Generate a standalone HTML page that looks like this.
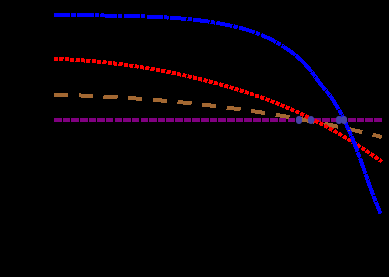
<!DOCTYPE html>
<html><head><meta charset="utf-8"><style>
html,body{margin:0;padding:0;background:#000;}
svg{display:block}
</style></head><body>
<svg shape-rendering="crispEdges" width="389" height="277" viewBox="0 0 389 277">
<rect width="389" height="277" fill="#000"/>
<path d="M54,120 L381.5,120" stroke="#800080" stroke-width="4.0" fill="none" stroke-dasharray="7.55 1.1"/>
<path d="M54.0,94.65 L56.0,94.70 L58.0,94.75 L60.0,94.81 L62.0,94.87 L64.0,94.92 L66.0,94.99 L68.0,95.05 L70.0,95.11 L72.0,95.18 L74.0,95.25 L76.0,95.32 L78.0,95.40 L80.0,95.47 L82.0,95.55 L84.0,95.63 L86.0,95.71 L88.0,95.80 L90.0,95.88 L92.0,95.97 L94.0,96.07 L96.0,96.16 L98.0,96.25 L100.0,96.35 L102.0,96.45 L104.0,96.55 L106.0,96.66 L108.0,96.77 L110.0,96.87 L112.0,96.99 L114.0,97.10 L116.0,97.22 L118.0,97.33 L120.0,97.45 L122.0,97.58 L124.0,97.70 L126.0,97.83 L128.0,97.96 L130.0,98.09 L132.0,98.23 L134.0,98.36 L136.0,98.50 L138.0,98.65 L140.0,98.79 L142.0,98.94 L144.0,99.09 L146.0,99.24 L148.0,99.39 L150.0,99.55 L152.0,99.71 L154.0,99.87 L156.0,100.03 L158.0,100.20 L160.0,100.37 L162.0,100.54 L164.0,100.72 L166.0,100.89 L168.0,101.07 L170.0,101.25 L172.0,101.44 L174.0,101.63 L176.0,101.82 L178.0,102.01 L180.0,102.20 L182.0,102.40 L184.0,102.60 L186.0,102.80 L188.0,103.01 L190.0,103.22 L192.0,103.43 L194.0,103.64 L196.0,103.86 L198.0,104.08 L200.0,104.30 L202.0,104.52 L204.0,104.75 L206.0,104.98 L208.0,105.21 L210.0,105.45 L212.0,105.68 L214.0,105.93 L216.0,106.17 L218.0,106.42 L220.0,106.67 L222.0,106.92 L224.0,107.17 L226.0,107.43 L228.0,107.69 L230.0,107.95 L232.0,108.22 L234.0,108.49 L236.0,108.76 L238.0,109.04 L240.0,109.31 L242.0,109.60 L244.0,109.88 L246.0,110.17 L248.0,110.46 L250.0,110.75 L252.0,111.04 L254.0,111.34 L256.0,111.64 L258.0,111.95 L260.0,112.26 L262.0,112.57 L264.0,112.88 L266.0,113.20 L268.0,113.52 L270.0,113.84 L272.0,114.17 L274.0,114.49 L276.0,114.83 L278.0,115.16 L280.0,115.50 L282.0,115.84 L284.0,116.19 L286.0,116.53 L288.0,116.88 L290.0,117.24 L292.0,117.59 L294.0,117.95 L296.0,118.32 L298.0,118.68 L300.0,119.05 L302.0,119.43 L304.0,119.80 L306.0,120.18 L308.0,120.57 L310.0,120.95 L312.0,121.34 L314.0,121.73 L316.0,122.13 L318.0,122.53 L320.0,122.93 L322.0,123.34 L324.0,123.74 L326.0,124.16 L328.0,124.57 L330.0,124.99 L332.0,125.41 L334.0,125.84 L336.0,126.27 L338.0,126.70 L340.0,127.14 L342.0,127.58 L344.0,128.02 L346.0,128.46 L348.0,128.91 L350.0,129.37 L352.0,129.82 L354.0,130.28 L356.0,130.75 L358.0,131.21 L360.0,131.68 L362.0,132.16 L364.0,132.63 L366.0,133.12 L368.0,133.60 L370.0,134.09 L372.0,134.58 L374.0,135.07 L376.0,135.57 L378.0,136.07 L380.0,136.58 L381.7,137.01" stroke="#a36832" stroke-width="4.0" fill="none" stroke-dasharray="14.1 10.65"/>
<path d="M54.0,58.83 L56.0,58.91 L58.0,58.99 L60.0,59.07 L62.0,59.16 L64.0,59.26 L66.0,59.36 L68.0,59.47 L70.0,59.58 L72.0,59.70 L74.0,59.83 L76.0,59.95 L78.0,60.09 L80.0,60.23 L82.0,60.37 L84.0,60.52 L86.0,60.68 L88.0,60.84 L90.0,61.01 L92.0,61.18 L94.0,61.36 L96.0,61.54 L98.0,61.73 L100.0,61.93 L102.0,62.13 L104.0,62.33 L106.0,62.54 L108.0,62.76 L110.0,62.98 L112.0,63.21 L114.0,63.45 L116.0,63.69 L118.0,63.93 L120.0,64.18 L122.0,64.44 L124.0,64.70 L126.0,64.97 L128.0,65.25 L130.0,65.53 L132.0,65.81 L134.0,66.10 L136.0,66.40 L138.0,66.71 L140.0,67.01 L142.0,67.33 L144.0,67.65 L146.0,67.98 L148.0,68.31 L150.0,68.65 L152.0,68.99 L154.0,69.34 L156.0,69.70 L158.0,70.06 L160.0,70.43 L162.0,70.81 L164.0,71.19 L166.0,71.57 L168.0,71.97 L170.0,72.36 L172.0,72.77 L174.0,73.18 L176.0,73.60 L178.0,74.02 L180.0,74.45 L182.0,74.88 L184.0,75.33 L186.0,75.77 L188.0,76.23 L190.0,76.69 L192.0,77.15 L194.0,77.63 L196.0,78.10 L198.0,78.59 L200.0,79.08 L202.0,79.58 L204.0,80.08 L206.0,80.59 L208.0,81.11 L210.0,81.63 L212.0,82.16 L214.0,82.70 L216.0,83.24 L218.0,83.79 L220.0,84.34 L222.0,84.90 L224.0,85.47 L226.0,86.05 L228.0,86.63 L230.0,87.22 L232.0,87.81 L234.0,88.42 L236.0,89.03 L238.0,89.65 L240.0,90.27 L242.0,90.91 L244.0,91.55 L246.0,92.20 L248.0,92.86 L250.0,93.53 L252.0,94.20 L254.0,94.89 L256.0,95.58 L258.0,96.28 L260.0,96.99 L262.0,97.71 L264.0,98.44 L266.0,99.18 L268.0,99.93 L270.0,100.69 L272.0,101.46 L274.0,102.24 L276.0,103.03 L278.0,103.83 L280.0,104.64 L282.0,105.46 L284.0,106.29 L286.0,107.13 L288.0,107.99 L290.0,108.85 L292.0,109.73 L294.0,110.61 L296.0,111.51 L298.0,112.42 L300.0,113.34 L302.0,114.28 L304.0,115.22 L306.0,116.18 L308.0,117.15 L310.0,118.13 L312.0,119.13 L314.0,120.13 L316.0,121.15 L318.0,122.18 L320.0,123.23 L322.0,124.28 L324.0,125.35 L326.0,126.43 L328.0,127.53 L330.0,128.63 L332.0,129.75 L334.0,130.88 L336.0,132.03 L338.0,133.19 L340.0,134.36 L342.0,135.54 L344.0,136.74 L346.0,137.95 L348.0,139.17 L350.0,140.40 L352.0,141.65 L354.0,142.91 L356.0,144.19 L358.0,145.47 L360.0,146.77 L362.0,148.08 L364.0,149.40 L366.0,150.73 L368.0,152.08 L370.0,153.43 L372.0,154.80 L374.0,156.17 L376.0,157.56 L378.0,158.95 L380.0,160.36 L381.8,161.63" stroke="#ff0000" stroke-width="4.0" fill="none" stroke-dasharray="4.1 1.3"/>
<path d="M54.0,15.11 L55.0,15.11 L56.0,15.12 L57.0,15.12 L58.0,15.12 L59.0,15.13 L60.0,15.13 L61.0,15.14 L62.0,15.14 L63.0,15.15 L64.0,15.15 L65.0,15.16 L66.0,15.16 L67.0,15.16 L68.0,15.17 L69.0,15.18 L70.0,15.18 L71.0,15.19 L72.0,15.19 L73.0,15.20 L74.0,15.20 L75.0,15.21 L76.0,15.22 L77.0,15.22 L78.0,15.23 L79.0,15.24 L80.0,15.24 L81.0,15.25 L82.0,15.26 L83.0,15.27 L84.0,15.28 L85.0,15.28 L86.0,15.29 L87.0,15.30 L88.0,15.31 L89.0,15.32 L90.0,15.33 L91.0,15.34 L92.0,15.35 L93.0,15.36 L94.0,15.37 L95.0,15.38 L96.0,15.40 L97.0,15.41 L98.0,15.42 L99.0,15.43 L100.0,15.44 L101.0,15.46 L102.0,15.47 L103.0,15.49 L104.0,15.50 L105.0,15.51 L106.0,15.53 L107.0,15.55 L108.0,15.56 L109.0,15.58 L110.0,15.59 L111.0,15.61 L112.0,15.63 L113.0,15.65 L114.0,15.67 L115.0,15.68 L116.0,15.70 L117.0,15.72 L118.0,15.74 L119.0,15.76 L120.0,15.78 L121.0,15.81 L122.0,15.83 L123.0,15.85 L124.0,15.87 L125.0,15.90 L126.0,15.92 L127.0,15.95 L128.0,15.97 L129.0,16.00 L130.0,16.02 L131.0,16.05 L132.0,16.08 L133.0,16.10 L134.0,16.13 L135.0,16.16 L136.0,16.19 L137.0,16.22 L138.0,16.25 L139.0,16.28 L140.0,16.31 L141.0,16.35 L142.0,16.38 L143.0,16.41 L144.0,16.45 L145.0,16.48 L146.0,16.52 L147.0,16.55 L148.0,16.59 L149.0,16.63 L150.0,16.67 L151.0,16.71 L152.0,16.75 L153.0,16.79 L154.0,16.83 L155.0,16.88 L156.0,16.92 L157.0,16.97 L158.0,17.02 L159.0,17.06 L160.0,17.11 L161.0,17.17 L162.0,17.22 L163.0,17.27 L164.0,17.33 L165.0,17.38 L166.0,17.44 L167.0,17.50 L168.0,17.56 L169.0,17.62 L170.0,17.68 L171.0,17.75 L172.0,17.82 L173.0,17.88 L174.0,17.95 L175.0,18.03 L176.0,18.10 L177.0,18.17 L178.0,18.25 L179.0,18.33 L180.0,18.41 L181.0,18.49 L182.0,18.58 L183.0,18.66 L184.0,18.75 L185.0,18.84 L186.0,18.93 L187.0,19.03 L188.0,19.12 L189.0,19.22 L190.0,19.32 L191.0,19.42 L192.0,19.53 L193.0,19.64 L194.0,19.75 L195.0,19.86 L196.0,19.97 L197.0,20.09 L198.0,20.21 L199.0,20.33 L200.0,20.45 L201.0,20.58 L202.0,20.71 L203.0,20.84 L204.0,20.97 L205.0,21.11 L206.0,21.25 L207.0,21.39 L208.0,21.54 L209.0,21.69 L210.0,21.84 L211.0,21.99 L212.0,22.15 L213.0,22.30 L214.0,22.47 L215.0,22.63 L216.0,22.80 L217.0,22.97 L218.0,23.14 L219.0,23.32 L220.0,23.50 L221.0,23.69 L222.0,23.87 L223.0,24.06 L224.0,24.25 L225.0,24.45 L226.0,24.65 L227.0,24.85 L228.0,25.06 L229.0,25.27 L230.0,25.48 L231.0,25.70 L232.0,25.93 L233.0,26.15 L234.0,26.38 L235.0,26.62 L236.0,26.86 L237.0,27.11 L238.0,27.36 L239.0,27.61 L240.0,27.87 L241.0,28.14 L242.0,28.41 L243.0,28.69 L244.0,28.98 L245.0,29.27 L246.0,29.56 L247.0,29.87 L248.0,30.18 L249.0,30.49 L250.0,30.82 L251.0,31.15 L252.0,31.49 L253.0,31.83 L254.0,32.18 L255.0,32.54 L256.0,32.91 L257.0,33.29 L258.0,33.67 L259.0,34.06 L260.0,34.46 L261.0,34.87 L262.0,35.29 L263.0,35.71 L264.0,36.15 L265.0,36.59 L266.0,37.04 L267.0,37.51 L268.0,37.98 L269.0,38.46 L270.0,38.95 L271.0,39.45 L272.0,39.97 L273.0,40.49 L274.0,41.02 L275.0,41.56 L276.0,42.12 L277.0,42.68 L278.0,43.26 L279.0,43.84 L280.0,44.44 L281.0,45.05 L282.0,45.67 L283.0,46.30" stroke="#0000ff" stroke-width="4.0" fill="none" stroke-dasharray="16.3 1.15 4.2 1.6"/>
<path d="M283.0,46.30 L284.0,46.95 L285.0,47.61 L286.0,48.27 L287.0,48.96 L288.0,49.65 L289.0,50.36 L290.0,51.07 L291.0,51.81 L292.0,52.55 L293.0,53.31 L294.0,54.09 L295.0,54.89 L296.0,55.70 L297.0,56.54 L298.0,57.40 L299.0,58.28 L300.0,59.18 L301.0,60.11 L302.0,61.07 L303.0,62.05 L304.0,63.06 L305.0,64.10 L306.0,65.18 L307.0,66.28 L308.0,67.42 L309.0,68.60 L310.0,69.81 L311.0,71.06 L312.0,72.35 L313.0,73.67 L314.0,75.03 L315.0,76.40 L316.0,77.78 L317.0,79.17 L318.0,80.55 L319.0,81.92 L320.0,83.27 L321.0,84.60 L322.0,85.88 L323.0,87.12 L324.0,88.32 L325.0,89.50 L326.0,90.68 L327.0,91.89 L328.0,93.13 L329.0,94.42 L330.0,95.76 L331.0,97.15 L332.0,98.59 L333.0,100.09 L334.0,101.63 L335.0,103.22 L336.0,104.86 L337.0,106.55 L338.0,108.28 L339.0,110.07 L340.0,111.90 L341.0,113.78 L342.0,115.70 L343.0,117.68 L344.0,119.70 L345.0,121.76 L346.0,123.87 L347.0,126.03 L348.0,128.23 L349.0,130.47 L350.0,132.77 L351.0,135.10 L352.0,137.49 L353.0,139.92 L354.0,142.40 L355.0,144.92 L356.0,147.50 L357.0,150.12 L358.0,152.79 L359.0,155.50 L360.0,158.25 L361.0,161.04 L362.0,163.86 L363.0,166.69 L364.0,169.55 L365.0,172.41 L366.0,175.29 L367.0,178.16 L368.0,181.02 L369.0,183.86 L370.0,186.66 L371.0,189.42 L372.0,192.12 L373.0,194.76 L374.0,197.34 L375.0,199.88 L376.0,202.38 L377.0,204.87 L378.0,207.34 L379.0,209.83 L380.0,212.33 L380.6,213.85" stroke="#0000ff" stroke-width="4.0" fill="none" stroke-dasharray="16.5 0.55 5.65 0.55" stroke-dashoffset="1.37"/>
<g fill="#4444a6" shape-rendering="geometricPrecision">
<ellipse cx="299" cy="120" rx="3.15" ry="4.05"/><ellipse cx="311" cy="120" rx="3.15" ry="4.05"/><ellipse cx="339" cy="120" rx="3.15" ry="4.05"/><ellipse cx="344" cy="120" rx="3.15" ry="4.05"/>
</g>
</svg>
</body></html>
